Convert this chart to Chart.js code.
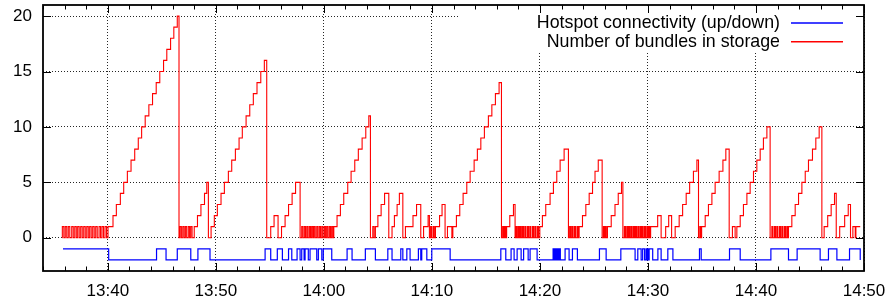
<!DOCTYPE html>
<html>
<head>
<meta charset="utf-8">
<script src="https://cdn.jsdelivr.net/npm/chart.js@4.4.1/dist/chart.umd.min.js"></script>
<style>
  body { margin: 0; background: #fff; }
  canvas { display: block; }
</style>
</head>
<body>
<canvas id="bundleChart" width="887" height="301"></canvas>
<script>
// =====================================================
// Data: time is minutes after 13:00
// =====================================================
const xTickMinutes = [40, 50, 60, 70, 80, 90, 100, 110];
const xTickLabels = ['13:40', '13:50', '14:00', '14:10', '14:20', '14:30', '14:40', '14:50'];
const yTickValues = [0, 5, 10, 15, 20];

// hotspot link: -1 = up, -2 = down (change points)
const linkSteps = [
    [35.85, -1], [40.08, -2], [44.51, -1], [45.39, -2], [46.43, -1], [47.68, -2], [48.34, -1], [49.46, -2],
    [54.56, -1], [55.08, -2], [55.69, -1], [56.16, -2], [56.73, -1], [57.03, -2], [57.52, -1], [57.80, -2],
    [57.95, -1], [58.17, -2], [58.26, -1], [58.56, -2], [58.72, -1], [59.34, -2], [59.49, -1], [59.81, -2],
    [59.95, -1], [60.73, -2], [62.15, -1], [62.61, -2], [63.84, -1], [64.77, -2], [65.92, -1], [66.31, -2],
    [67.12, -1], [67.31, -2], [67.68, -1], [67.98, -2], [68.75, -1], [68.97, -2], [69.06, -1], [69.53, -2],
    [69.99, -1], [71.69, -2], [76.38, -1], [76.84, -2], [77.33, -1], [77.61, -2], [77.89, -1], [78.26, -2],
    [78.49, -1], [78.91, -2], [79.09, -1], [79.74, -2],
    [81.22, -1], [81.30, -2], [81.37, -1], [81.45, -2], [81.52, -1], [81.59, -2], [81.67, -1], [81.74, -2],
    [81.81, -1], [81.89, -2], [82.33, -1], [82.70, -2], [83.01, -1], [83.47, -2], [85.51, -1], [86.13, -2],
    [87.49, -1], [88.81, -2], [89.06, -1], [89.37, -2], [89.51, -1], [89.69, -2], [89.83, -1], [89.91, -2],
    [89.97, -1], [90.05, -2], [90.11, -1], [90.44, -2], [90.92, -1], [91.22, -2], [91.84, -1], [92.31, -2],
    [94.77, -1], [94.93, -2], [97.55, -1], [98.54, -2], [101.38, -1], [103.01, -2], [103.81, -1], [105.94, -2],
    [106.71, -1], [107.49, -2], [108.66, -1], [109.65, -2]
];

// bundles in storage (change points)
const bundleSteps = [
    [35.78, 0],
    [35.79, 1], [35.93, 0], [36.06, 1], [36.20, 0], [36.34, 1], [36.48, 0], [36.66, 1], [36.80, 0],
    [36.94, 1], [37.08, 0], [37.21, 1], [37.35, 0], [37.49, 1], [37.63, 0], [37.77, 1], [37.91, 0],
    [38.05, 1], [38.19, 0], [38.32, 1], [38.46, 0], [38.60, 1], [38.74, 0], [38.88, 1], [39.02, 0],
    [39.19, 1], [39.33, 0], [39.46, 1], [39.60, 0], [39.74, 1], [39.88, 0],
    [40.02, 1], [40.48, 2], [40.79, 3], [41.16, 4], [41.47, 5], [41.81, 6], [42.15, 7], [42.49, 8],
    [42.82, 9], [43.13, 10], [43.46, 11], [43.80, 12], [44.14, 13], [44.48, 14], [44.81, 15], [45.16, 16],
    [45.46, 17], [45.81, 18], [46.11, 19], [46.43, 20], [46.59, 0],
    [46.69, 1], [46.81, 0], [46.94, 1], [47.06, 0], [47.18, 1], [47.30, 0], [47.45, 1], [47.57, 0],
    [47.68, 1], [47.80, 0],
    [48.00, 1], [48.30, 2], [48.62, 3], [48.95, 4], [49.16, 5], [49.31, 0],
    [49.56, 1], [49.86, 2], [50.14, 3], [50.48, 4], [50.79, 5], [51.16, 6], [51.47, 7], [51.81, 8],
    [52.15, 9], [52.45, 10], [52.80, 11], [53.14, 12], [53.47, 13], [53.81, 14], [54.16, 15], [54.49, 16],
    [54.71, 0],
    [55.08, 1], [55.39, 2], [55.76, 0], [56.08, 1], [56.41, 2], [56.73, 3], [57.06, 4], [57.38, 5], [57.80, 0],
    [57.95, 1], [58.06, 0], [58.19, 1], [58.30, 0], [58.42, 1], [58.53, 0], [58.66, 1], [58.77, 0],
    [58.88, 1], [58.99, 0], [59.09, 1], [59.20, 0], [59.34, 1], [59.45, 0], [59.58, 1], [59.69, 0],
    [59.81, 1], [59.92, 0], [60.05, 1], [60.16, 0], [60.27, 1], [60.38, 0], [60.51, 1], [60.62, 0],
    [60.73, 1], [60.84, 0],
    [60.92, 1], [61.22, 2], [61.53, 3], [61.84, 4], [62.21, 5], [62.52, 6], [62.86, 7], [63.19, 8],
    [63.54, 9], [63.88, 10], [64.16, 11], [64.31, 0],
    [64.53, 1], [64.65, 0], [64.77, 1], [65.00, 2], [65.30, 3], [65.62, 4], [66.01, 0],
    [66.31, 1], [66.53, 2], [66.78, 3], [66.99, 4], [67.31, 0],
    [67.55, 1], [68.25, 2], [68.58, 3], [68.97, 0], [69.23, 1], [69.65, 2], [69.77, 0],
    [69.88, 1], [69.98, 0], [70.12, 1], [70.22, 0],
    [70.33, 1], [70.71, 2], [70.94, 3], [71.22, 0], [71.44, 1], [71.85, 0], [71.94, 1],
    [72.27, 2], [72.58, 3], [72.89, 4], [73.23, 5], [73.54, 6], [73.91, 7], [74.21, 8], [74.53, 9],
    [74.86, 10], [75.23, 11], [75.55, 12], [75.88, 13], [76.22, 14], [76.44, 0],
    [76.55, 1], [76.64, 0], [76.73, 1], [76.82, 0], [76.92, 1], [77.21, 2], [77.55, 3], [77.70, 0],
    [77.77, 1], [77.87, 0], [77.98, 1], [78.08, 0], [78.17, 1], [78.27, 0], [78.38, 1], [78.48, 0],
    [78.60, 1], [78.70, 0], [78.84, 1], [78.94, 0], [79.06, 1], [79.16, 0], [79.31, 1], [79.41, 0],
    [79.53, 1], [79.63, 0], [79.77, 1], [79.87, 0],
    [79.99, 1], [80.23, 2], [80.54, 3], [80.94, 4], [81.25, 5], [81.56, 6], [81.87, 7], [82.24, 8], [82.64, 0],
    [82.75, 1], [82.85, 0], [82.96, 1], [83.06, 0], [83.19, 1], [83.29, 0], [83.43, 1], [83.53, 0],
    [83.63, 1], [83.94, 2], [84.25, 3], [84.56, 4], [84.87, 5], [85.10, 6], [85.40, 7], [85.76, 0],
    [85.88, 1], [85.96, 0], [86.06, 1], [86.14, 0],
    [86.25, 1], [86.60, 2], [86.95, 3], [87.25, 4], [87.55, 5], [87.68, 0],
    [87.82, 1], [87.92, 0], [88.04, 1], [88.14, 0], [88.23, 1], [88.33, 0], [88.44, 1], [88.54, 0],
    [88.66, 1], [88.76, 0], [88.84, 1], [88.94, 0], [89.06, 1], [89.16, 0], [89.28, 1], [89.38, 0],
    [89.46, 1], [89.56, 0], [89.68, 1], [89.78, 0], [89.90, 1], [90.00, 0], [90.08, 1], [90.18, 0],
    [90.25, 1], [90.90, 2], [91.22, 0], [91.64, 1], [91.92, 2], [92.19, 0],
    [92.52, 1], [92.89, 2], [93.21, 3], [93.54, 4], [93.86, 5], [94.21, 6], [94.53, 7], [94.68, 0],
    [94.80, 1], [94.90, 0],
    [94.97, 1], [95.30, 2], [95.60, 3], [95.92, 4], [96.22, 5], [96.59, 6], [96.94, 7], [97.21, 8], [97.52, 0],
    [97.82, 1], [98.07, 0], [98.23, 1], [98.54, 2], [98.84, 3], [99.16, 4], [99.46, 5], [99.77, 6],
    [100.08, 7], [100.39, 8], [100.69, 9], [101.01, 10], [101.31, 0],
    [101.47, 1], [101.57, 0], [101.71, 1], [101.81, 0], [101.93, 1], [102.03, 0], [102.18, 1], [102.28, 0],
    [102.40, 1], [102.50, 0], [102.64, 1], [102.74, 0], [102.86, 1], [102.96, 0],
    [103.01, 1], [103.32, 2], [103.63, 3], [103.94, 4], [104.25, 5], [104.56, 6], [104.86, 7], [105.23, 8],
    [105.54, 9], [105.85, 10], [106.10, 0],
    [106.31, 1], [106.64, 2], [106.96, 3], [107.27, 4], [107.43, 0],
    [107.75, 1], [108.21, 2], [108.54, 3], [108.75, 0],
    [108.97, 1], [109.19, 0], [109.25, 1], [109.65, 1]
];

const FONT = "'Liberation Sans', Arial, sans-serif";

// =====================================================
// gnuplot-like frame, inward ticks and key
// =====================================================
const gnuplotFrame = {
    id: 'gnuplotFrame',
    beforeDatasetsDraw(chart) {
        // key area hides the grid behind it
        const { ctx, chartArea: a } = chart;
        ctx.save();
        ctx.fillStyle = '#fff';
        ctx.fillRect(458, a.top + 1, a.right - 459, 50 - a.top);
        ctx.restore();
    },
    afterDraw(chart) {
        const { ctx, chartArea: a, scales: { x, y } } = chart;
        ctx.save();
        ctx.strokeStyle = '#000';
        ctx.lineWidth = 1;
        ctx.beginPath();
        // x ticks, major every 10 min, minor every 2 min
        for (let m = 34; m <= 110; m += 2) {
            const px = Math.round(x.getPixelForValue(m)) + 0.5;
            const len = xTickMinutes.includes(m) ? 8 : 4.5;
            ctx.moveTo(px, a.bottom); ctx.lineTo(px, a.bottom - len);
            ctx.moveTo(px, a.top); ctx.lineTo(px, a.top + len);
        }
        yTickValues.forEach(v => {
            const py = Math.round(y.getPixelForValue(v)) + 0.5;
            ctx.moveTo(a.left, py); ctx.lineTo(a.left + 8, py);
            ctx.moveTo(a.right, py); ctx.lineTo(a.right - 8, py);
        });
        ctx.stroke();

        // border
        ctx.lineWidth = 1.8;
        ctx.strokeRect(a.left, a.top, a.right - a.left, a.bottom - a.top);

        // key
        ctx.font = '17.8px ' + FONT;
        ctx.fillStyle = '#000';
        ctx.textAlign = 'right';
        ctx.textBaseline = 'middle';
        chart.data.datasets.forEach((ds, i) => {
            const ly = 23 + i * 18.7;
            ctx.fillText(ds.label, 780, ly);
            ctx.strokeStyle = ds.borderColor;
            ctx.lineWidth = 1.6;
            ctx.beginPath();
            ctx.moveTo(791, ly); ctx.lineTo(843, ly);
            ctx.stroke();
        });
        ctx.restore();
    }
};

const toPoints = steps => steps.map(([t, v]) => ({ x: t, y: v }));

new Chart(document.getElementById('bundleChart').getContext('2d'), {
    type: 'line',
    data: {
        datasets: [
            {
                label: 'Hotspot connectivity (up/down)',
                data: toPoints(linkSteps),
                borderColor: '#0000ff',
                borderWidth: 1.2,
                stepped: true,
                pointRadius: 0,
                fill: false
            },
            {
                label: 'Number of bundles in storage',
                data: toPoints(bundleSteps),
                borderColor: '#ff0000',
                borderWidth: 1.1,
                stepped: true,
                pointRadius: 0,
                fill: false
            }
        ]
    },
    options: {
        responsive: false,
        animation: false,
        layout: { padding: { top: 5, right: 23, left: 0, bottom: 0 } },
        plugins: { legend: { display: false }, tooltip: { enabled: false } },
        scales: {
            x: {
                type: 'linear',
                min: 34,
                max: 110,
                afterFit: s => { s.height = 30; s.paddingLeft = 0; s.paddingRight = 0; },
                afterBuildTicks: s => { s.ticks = xTickMinutes.map(v => ({ value: v })); },
                ticks: {
                    autoSkip: false,
                    maxRotation: 0,
                    padding: 10,
                    color: '#000',
                    font: { family: FONT, size: 17 },
                    callback: v => xTickLabels[xTickMinutes.indexOf(v)]
                },
                grid: { color: 'rgba(0,0,0,0.85)', lineWidth: 1, drawTicks: false },
                border: { display: false, dash: [1, 2] }
            },
            y: {
                min: -3,
                max: 21,
                afterFit: s => { s.width = 43; s.paddingTop = 0; s.paddingBottom = 0; },
                afterBuildTicks: s => { s.ticks = yTickValues.map(v => ({ value: v })); },
                ticks: {
                    padding: 11,
                    color: '#000',
                    font: { family: FONT, size: 17 }
                },
                grid: { color: 'rgba(0,0,0,0.85)', lineWidth: 1, drawTicks: false },
                border: { display: false, dash: [1, 2] }
            }
        }
    },
    plugins: [gnuplotFrame]
});
</script>
</body>
</html>
